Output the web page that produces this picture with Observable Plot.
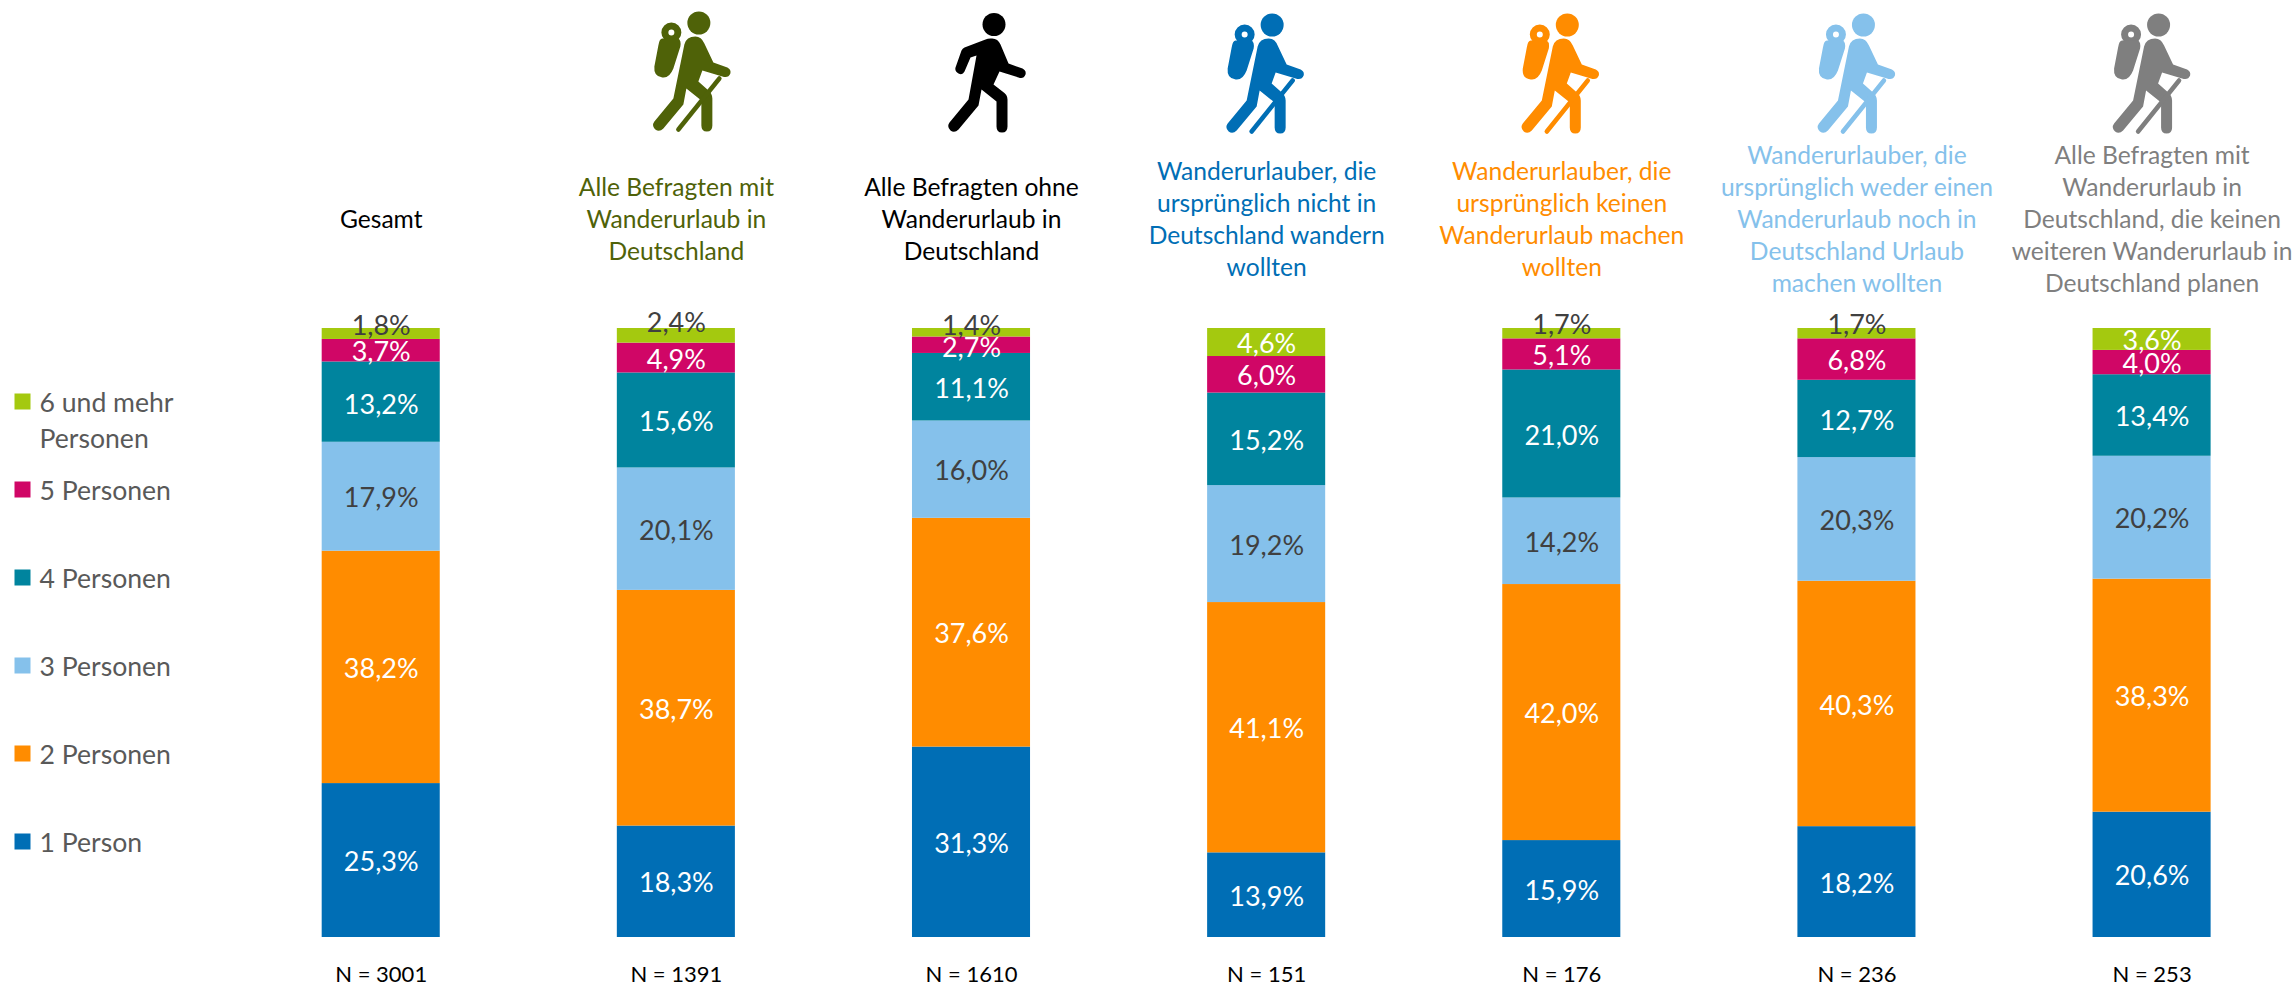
<!DOCTYPE html>
<html lang="de">
<head>
<meta charset="utf-8">
<style>html,body{margin:0;padding:0;background:#fff}svg{display:block}</style>
<script src="https://cdn.jsdelivr.net/npm/d3@7"></script>
<script src="https://cdn.jsdelivr.net/npm/@observablehq/plot@0.6"></script>
</head>
<body>
<div id="chart"></div>
<script>
const groups = ["Gesamt","Mit Wanderurlaub","Ohne Wanderurlaub","Nicht wandern","Kein Wanderurlaub","Weder noch","Keine weiteren"];
const sizes = ["1 Person","2 Personen","3 Personen","4 Personen","5 Personen","6 und mehr\nPersonen"];
const person1 = [25.3,18.3,31.3,13.9,15.9,18.2,20.6];
const person2 = [38.2,38.7,37.6,41.1,42.0,40.3,38.3];
const person3 = [17.9,20.1,16.0,19.2,14.2,20.3,20.2];
const person4 = [13.2,15.6,11.1,15.2,21.0,12.7,13.4];
const person5 = [3.7,4.9,2.7,6.0,5.1,6.8,4.0];
const person6 = [1.8,2.4,1.4,4.6,1.7,1.7,3.6];
const series = [person1,person2,person3,person4,person5,person6];
const sizeColors = ["#006EB5","#FF8C00","#85C1EB","#00849E","#D00666","#A4C90F"];
const labelColors = ["#ffffff","#ffffff","#404040","#ffffff","#ffffff",null];
const headers = ["Gesamt",
  "Alle Befragten mit\nWanderurlaub in\nDeutschland",
  "Alle Befragten ohne\nWanderurlaub in\nDeutschland",
  "Wanderurlauber, die\nursprünglich nicht in\nDeutschland wandern\nwollten",
  "Wanderurlauber, die\nursprünglich keinen\nWanderurlaub machen\nwollten",
  "Wanderurlauber, die\nursprünglich weder einen\nWanderurlaub noch in\nDeutschland Urlaub\nmachen wollten",
  "Alle Befragten mit\nWanderurlaub in\nDeutschland, die keinen\nweiteren Wanderurlaub in\nDeutschland planen"];
const headerColors = ["#000000","#4F6208","#000000","#006EB5","#FF8C00","#85C1EB","#7F7F7F"];
const counts = [3001,1391,1610,151,176,236,253];
const iconKinds = [null,"hiker","walker","hiker","hiker","hiker","hiker"];
const iconNudgeX = [0,17,17,0,0,1,1];
const iconNudgeY = [0,0,0,2,2,2,2];

// labels that were moved by hand in the original
const labelNudge = {"0|5":-10,"1|5":-14,"2|5":-8,"2|4":1,"4|5":-10,"5|5":-10,"0|3":1};
const darkTop = new Set([0,1,2,4,5]);

const hikerSvg = c => `<svg xmlns="http://www.w3.org/2000/svg" viewBox="0 0 110 140" width="110" height="140"><g fill="${c}" stroke="none"><circle cx="60.5" cy="22.5" r="11.5"/><circle cx="33" cy="32" r="6.5" fill="none" stroke="${c}" stroke-width="7"/><path d="M24 38L40 38Q43 40 42 46L35 68Q31 78 24 77Q15 76 16 66L20 45Q21 38 24 38Z"/><path d="M46 44Q48 36 57 36Q63 36 66 43L75 62L89 67Q93 69 92 73Q90 78 84 76L64 70L60 81L69 89Q74 93 74 98L74 125Q74 131 68.5 131Q63 131 63 125L63 100L48 88L45 104L25 128Q21 132 17 129Q13 125 16 121L35 98Z"/><line x1="81" y1="78" x2="40" y2="129" stroke="${c}" stroke-width="4.5" stroke-linecap="round"/></g></svg>`;
const walkerSvg = c => `<svg xmlns="http://www.w3.org/2000/svg" viewBox="0 0 110 140" width="110" height="140"><g fill="${c}"><circle cx="60.5" cy="24" r="11.5"/><path d="M57 38Q64 37 67 44L75 63L89 68Q93 70 92 74Q90 79 85 77L66 71L60 84L69 91Q74 94 74 99L74 126Q74 132 68.5 132Q63 132 63 126L63 101L48 89L45 105L25 129Q21 133 17 130Q13 126 16 122L35 99L43 55L37 57L31 71Q29 75 25 73Q21 71 22 67L28 50Q29 48 31 47L52 39Q54 38 57 38Z"/></g></svg>`;
const iconUri = (kind,c) => "data:image/svg+xml;utf8," + encodeURIComponent(kind === "walker" ? walkerSvg(c) : hikerSvg(c));

const rows = groups.flatMap((g,gi) => {
  const total = d3.sum(series, s => s[gi]);
  let cum = 0;
  return sizes.map((size,si) => {
    const value = series[si][gi];
    const mid = (cum + value/2)/total;
    cum += value;
    const top = si === 5;
    return {group:g, size, value, mid, nudge: (labelNudge[gi+"|"+si] ?? 0) + 2,
      color: top ? (darkTop.has(gi) ? "#404040" : "#ffffff") : labelColors[si],
      text: value.toFixed(1).replace(".",",")+"%"};
  });
});

const font = "Lato";
const labelMarks = [...new Set(rows.map(d=>d.nudge))].map(n =>
  Plot.text(rows.filter(d=>d.nudge===n), {x:"group", y:"mid", text:"text", fill:"color", dy:n, fontSize:27, fontFamily:font, lineAnchor:"middle"}));

const headerMarks = groups.map((g,i) =>
  Plot.text([g], {x:d=>d, text:()=>headers[i], frameAnchor:"top", dy:217, lineAnchor:"middle", lineHeight:1.3, fill:headerColors[i], fontSize:24.6, fontFamily:font}));

const iconMarks = groups.flatMap((g,i) => iconKinds[i] ? [
  Plot.image([g], {x:d=>d, frameAnchor:"top", dy:70+iconNudgeY[i], dx:iconNudgeX[i], width:110, height:140, src:()=>iconUri(iconKinds[i],headerColors[i])})
] : []);

const legendMarks = sizes.flatMap((s,i) => {
  const cy = 841 - 88*i;
  const two = s.includes("\n");
  return [
    Plot.dot([s], {frameAnchor:"top-left", dx:22, dy:cy, symbol:"square", r:9.03, fill:sizeColors[i], stroke:"none"}),
    Plot.text([s], {frameAnchor:"top-left", dx:39, dy:two ? cy+17 : cy-1, text:d=>d, textAnchor:"start", lineAnchor:"middle", lineHeight:1.35, fill:"#595959", fontSize:26.6, fontFamily:font})
  ];
});

const chart = Plot.plot({
  width:2295, height:986,
  marginTop:0, marginBottom:0, marginLeft:0, marginRight:0,
  style:{background:"#fff"},
  x:{domain:groups, range:[144.6,2387.7], paddingInner:0.6, paddingOuter:0.6, round:false, axis:null},
  y:{domain:[0,1], range:[937,328], axis:null},
  color:{domain:sizes, range:sizeColors},
  marks:[
    Plot.barY(rows, Plot.stackY({x:"group", y:"value", z:"size", fill:"size", order:null, offset:"normalize"})),
    ...labelMarks,
    ...headerMarks,
    ...iconMarks,
    ...legendMarks,
    Plot.text(groups, {x:d=>d, text:(d,i)=>"N = "+counts[i], frameAnchor:"top", dy:974, lineAnchor:"middle", fill:"#000", fontSize:22, fontFamily:font})
  ]
});
document.getElementById("chart").append(chart);
</script>
</body>
</html>
